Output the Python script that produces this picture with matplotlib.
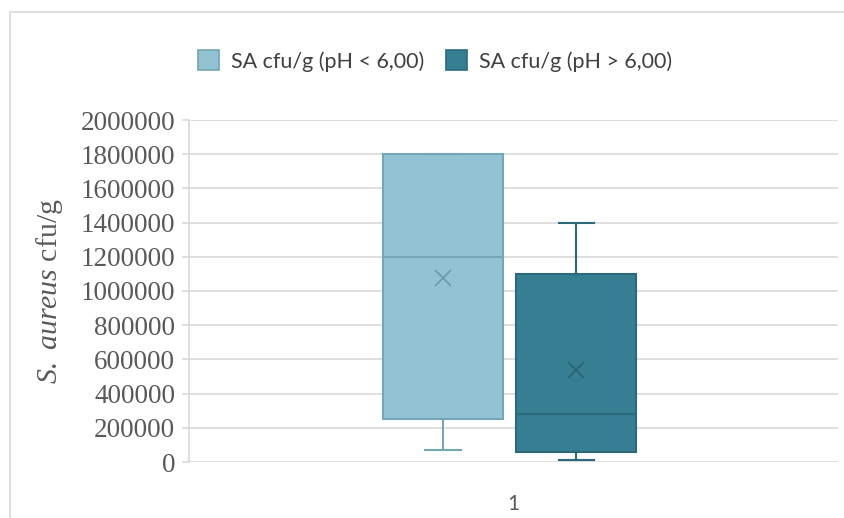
import matplotlib.pyplot as plt
from matplotlib.patches import Rectangle, Patch

plt.rcParams['mathtext.fontset'] = 'custom'
plt.rcParams['mathtext.it'] = 'Liberation Serif:italic'
plt.rcParams['mathtext.rm'] = 'Liberation Serif'

# box statistics
labels = ['SA cfu/g (pH < 6,00)', 'SA cfu/g (pH > 6,00)']
whislo = [70000, 10000]
q1 = [250000, 60000]
med = [1200000, 280000]
q3 = [1800000, 1100000]
whishi = [1800000, 1400000]
means = [1075000, 540000]
yticks = [0, 200000, 400000, 600000, 800000, 1000000, 1200000,
          1400000, 1600000, 1800000, 2000000]

fills = ['#93C2D3', '#367F93']
edges = ['#74A6B8', '#2B6A7B']
xmark = ['#6C9DAF', '#2A6272']
positions = [0.391, 0.597]

fig = plt.figure(figsize=(8.45, 5.18), dpi=100)
fig.patches.append(Rectangle((10, -10), 900, 518 - 12 + 10, transform=None,
                             fill=False, edgecolor='#D9D9D9', lw=1.2))
ax = fig.add_axes([189 / 845, 1 - 462 / 518, 649 / 845, 342 / 518])

for i in range(2):
    st = [dict(whislo=whislo[i], q1=q1[i], med=med[i], q3=q3[i],
               whishi=whishi[i], mean=means[i], fliers=[])]
    ax.bxp(st, positions=[positions[i]], widths=0.185, patch_artist=True,
           showmeans=True, showcaps=True, capwidths=0.055, manage_ticks=False,
           boxprops=dict(facecolor=fills[i], edgecolor=edges[i], lw=1.5),
           medianprops=dict(color=edges[i], lw=1.5),
           whiskerprops=dict(color=edges[i], lw=1.5),
           capprops=dict(color=edges[i], lw=1.5),
           meanprops=dict(marker='x', markeredgecolor=xmark[i], markersize=12,
                          markeredgewidth=1.3))

ax.set_xlim(0, 1)
ax.set_ylim(0, 2000000)
ax.set_yticks(yticks)
ax.set_yticklabels([str(v) for v in yticks], family='Liberation Serif',
                   fontsize=19.5, color='#595959')
ax.set_xticks([0.5])
ax.set_xticklabels(['1'], family='Lato', fontsize=15, color='#595959')
ax.tick_params(axis='y', length=5, color='#D9D9D9', width=1.2, pad=5)
ax.tick_params(axis='x', length=0, pad=23)
ax.grid(axis='y', color='#D9D9D9', lw=1.2)
ax.set_axisbelow(True)
for s in ['top', 'right', 'bottom']:
    ax.spines[s].set_visible(False)
ax.spines['left'].set_color('#D9D9D9')
ax.spines['left'].set_linewidth(1.2)

ax.set_ylabel(r'$\mathit{S.}$ $\mathit{aureus}$ cfu/g', fontsize=21.5, color='#595959',
              family='Liberation Serif', labelpad=11)

handles = [Patch(facecolor=fills[i], edgecolor=edges[i], lw=1.2) for i in range(2)]
fig.legend(handles, labels, loc='center', bbox_to_anchor=(435 / 845, 1 - 61 / 518),
           ncol=2, frameon=False, prop={'family': 'Lato', 'size': 15.5},
           labelcolor='#404040', handlelength=1.0, handleheight=1.0,
           columnspacing=1.0, handletextpad=0.55)

fig.savefig('out.png', dpi=100)
